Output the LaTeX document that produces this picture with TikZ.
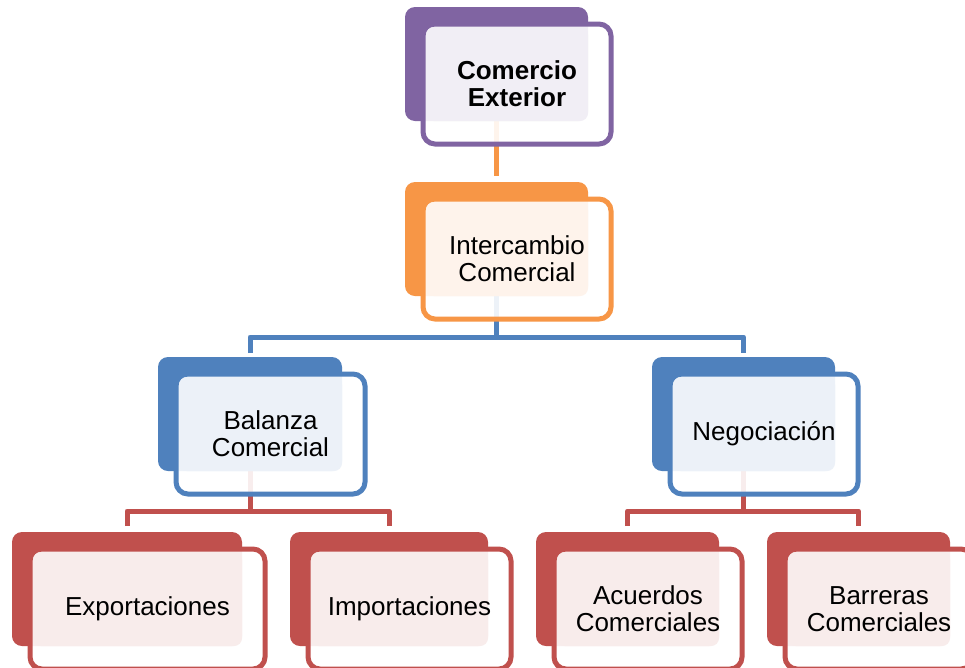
\documentclass[tikz,border=0pt]{standalone}
\usepackage{fontspec}
\setmainfont{Liberation Sans}
\usepackage{tikz}
\usetikzlibrary{positioning, calc, backgrounds}
\definecolor{cardpurple}{HTML}{8064A2}
\definecolor{cardorange}{HTML}{F79646}
\definecolor{cardblue}{HTML}{4F81BD}
\definecolor{cardred}{HTML}{C0504D}
\tikzset{
  cardbase/.style={rectangle,anchor=north west,inner sep=0pt,outer sep=0pt},
  cardback/.style={cardbase,rounded corners=10pt,minimum height=114pt},
  cardframe/.style={cardbase,rounded corners=12pt,line width=5pt,fill=white,fill opacity=0.9,minimum height=120pt},
  cardface/.style={cardbase,rounded corners=8pt,minimum height=94pt},
  cardtext/.style={align=center,font=\fontsize{26pt}{27pt}\selectfont},
  link/.style={line width=5pt,line join=round}
}
% #1 name, #2 x, #3 y, #4 width, #5 colour, #6 text
\newcommand{\orgcard}[6]{%
  \node[cardback,fill=#5,minimum width=#4pt] (#1-b) at (#2,#3) {};
  \node[cardframe,draw=#5,minimum width=#4pt+5pt] (#1-f) at (#2+18,#3+17) {};
  \node[cardface,fill=#5!11,minimum width=#4pt-21pt] (#1-l) at (#2+21,#3+20) {};
  \node[cardtext] (#1-t) at (#1-f.center) {#6};
}

\begin{document}
\begin{tikzpicture}[x=1pt,y=-1pt]
  \useasboundingbox (0,0) rectangle (965,667);

  %% Levels
  \orgcard{com}{405}{7}{183}{cardpurple}{\textbf{Comercio}\\\textbf{Exterior}}
  \orgcard{inter}{405}{182}{183}{cardorange}{Intercambio\\Comercial}
  \orgcard{bal}{158}{357}{184}{cardblue}{Balanza\\Comercial}
  \orgcard{neg}{652}{357}{183}{cardblue}{Negociación}
  \orgcard{exp}{12}{532}{230}{cardred}{Exportaciones}
  \orgcard{imp}{290}{532}{198}{cardred}{Importaciones}
  \orgcard{acu}{536}{532}{183}{cardred}{Acuerdos\\Comerciales}
  \orgcard{bar}{767}{532}{183}{cardred}{Barreras\\Comerciales}

  %% Forks
  \coordinate (fork-i) at ([yshift=20pt]bal-b.north);
  \coordinate (fork-b) at ([yshift=21pt]exp-b.north);
  \coordinate (fork-n) at ([yshift=21pt]acu-b.north);

  %% Connectors
  \begin{pgfonlayer}{background}
    \fill[white] (0,0) rectangle (965,667);
    \draw[link,draw=cardorange,shorten >=6pt] (com-b.south) -- (inter-b.north);
    \draw[link,draw=cardblue] (inter-b.south) -- (inter-b.south |- fork-i);
    \draw[link,draw=cardblue] ([yshift=4pt]bal-b.north) |- (fork-i -| neg-b.north)
      -- ([yshift=4pt]neg-b.north);
    \draw[link,draw=cardred] (bal-b.south) -- (bal-b.south |- fork-b);
    \draw[link,draw=cardred] ([yshift=6pt]exp-b.north) |- (fork-b -| imp-b.north)
      -- ([yshift=6pt]imp-b.north);
    \draw[link,draw=cardred] (neg-b.south) -- (neg-b.south |- fork-n);
    \draw[link,draw=cardred] ([yshift=6pt]acu-b.north) |- (fork-n -| bar-b.north)
      -- ([yshift=6pt]bar-b.north);
  \end{pgfonlayer}
\end{tikzpicture}
\end{document}
